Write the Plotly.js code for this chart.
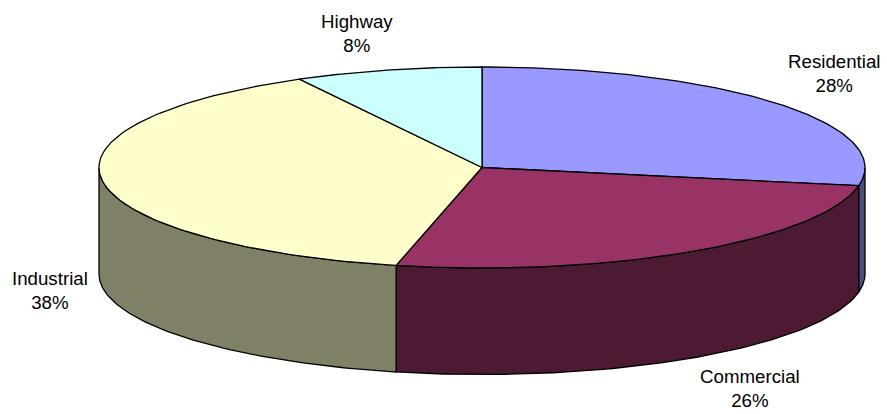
<!DOCTYPE html>
<html><head><meta charset="utf-8">
<script src="https://cdn.plot.ly/plotly-3.0.1.min.js"></script>
<style>html,body{margin:0;padding:0;background:#fff}</style></head>
<body><div id="chart" style="width:887px;height:414px"></div>
<script>
const categories = ["Residential", "Commercial", "Industrial", "Highway"];
const shares = [27.9, 25.7, 38.49, 7.91];
const topColors = ["#9999FF", "#993366", "#FFFFCC", "#CCFFFF"];
const sideColors = ["#4D4D80", "#4D1A33", "#808066", "#668080"];
const labelX = [834, 750, 50, 357];
const labelY = [73, 388, 290, 33];

const cx = 482, cy = 167.5, rx = 383, ry = 100.5, depth = 106.5;
const px = t => cx + rx * Math.sin(t);
const py = t => cy - ry * Math.cos(t);
const traces = [];
const total = shares.reduce((a, b) => a + b, 0);
const line = {color: "#000", width: 1.3};
let acc = 0;
const arcs = shares.map(v => { const a = acc; acc += v; return [a / total * 2 * Math.PI, acc / total * 2 * Math.PI]; });

function addPoly(xs, ys, color) {
  traces.push({type: "scatter", mode: "lines", x: xs, y: ys, fill: "toself", fillcolor: color,
    line, hoverinfo: "skip", showlegend: false});
}
// side walls: only the front half (90 to 270 degrees) is visible
arcs.forEach(([a, b], i) => {
  const s = Math.max(a, Math.PI / 2), e = Math.min(b, 3 * Math.PI / 2);
  if (e <= s) return;
  const xs = [], ys = [];
  const n = 90;
  for (let k = 0; k <= n; k++) { const t = s + (e - s) * k / n; xs.push(px(t)); ys.push(py(t)); }
  for (let k = n; k >= 0; k--) { const t = s + (e - s) * k / n; xs.push(px(t)); ys.push(py(t) + depth); }
  xs.push(xs[0]); ys.push(ys[0]);
  addPoly(xs, ys, sideColors[i]);
});
// top faces
arcs.forEach(([a, b], i) => {
  const xs = [cx], ys = [cy];
  const n = 120;
  for (let k = 0; k <= n; k++) { const t = a + (b - a) * k / n; xs.push(px(t)); ys.push(py(t)); }
  xs.push(cx); ys.push(cy);
  addPoly(xs, ys, topColors[i]);
});

const annotations = categories.map((c, i) => ({
  x: labelX[i], y: labelY[i], xref: "x", yref: "y", showarrow: false,
  text: c + "<br>" + Math.round(shares[i]) + "%", align: "center",
  font: {family: "Liberation Sans, Arial, sans-serif", size: 18.7, color: "#000"}
}));

Plotly.newPlot("chart", traces, {
  width: 887, height: 414, margin: {l: 0, r: 0, t: 0, b: 0},
  paper_bgcolor: "#fff", plot_bgcolor: "#fff", showlegend: false,
  xaxis: {range: [0, 887], visible: false, fixedrange: true},
  yaxis: {range: [414, 0], visible: false, fixedrange: true},
  annotations
}, {displayModeBar: false, staticPlot: true});
</script></body></html>
